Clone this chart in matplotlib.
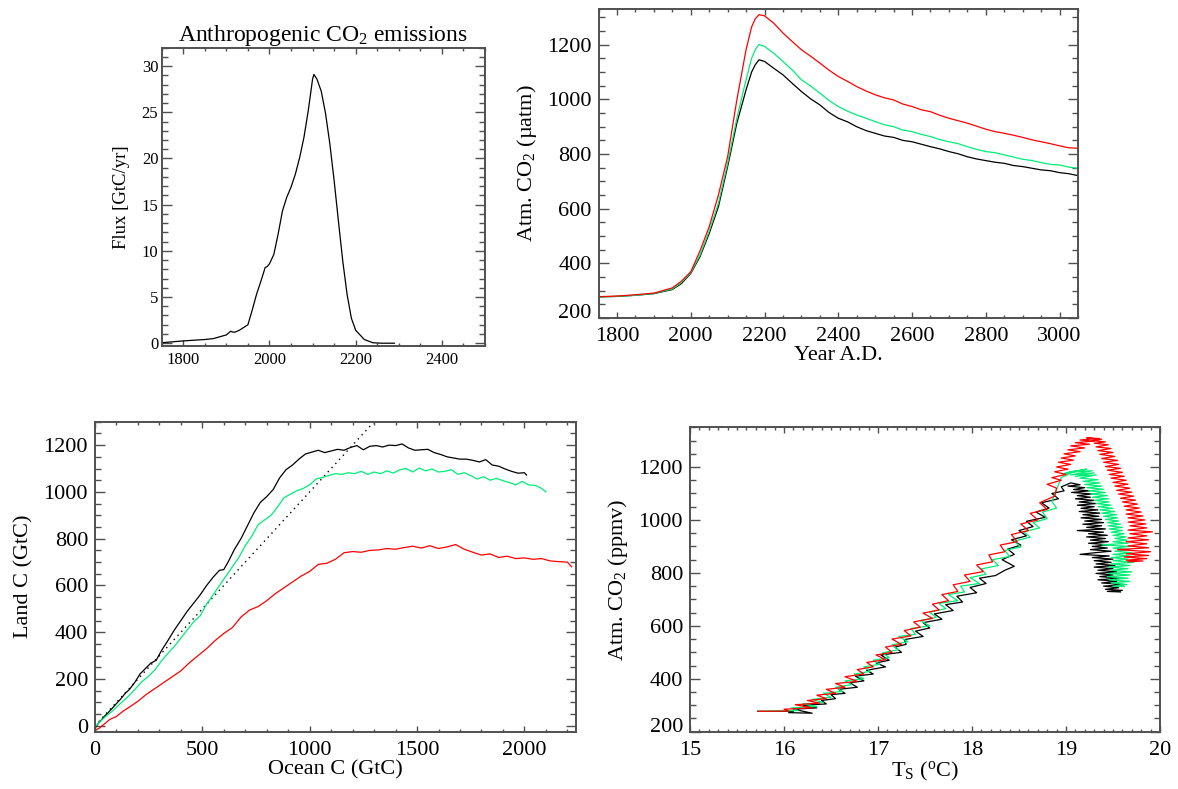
import numpy as np
import matplotlib
matplotlib.use("Agg")
import matplotlib.pyplot as plt
from matplotlib.ticker import MultipleLocator

plt.rcParams['font.family'] = ['Liberation Serif', 'DejaVu Serif']
plt.rcParams['mathtext.fontset'] = 'custom'
plt.rcParams['mathtext.rm'] = 'Liberation Serif'
plt.rcParams['mathtext.it'] = 'Liberation Serif:italic'

GREEN = '#00EE77'
SPINE = '#505050'

# --- emissions (top left)
emis_year = [1750, 1800, 1850, 1870, 1900, 1910, 1915, 1920, 1930, 1940, 1950, 1960, 1970,
             1980, 1990, 1995, 2000, 2010, 2020, 2030, 2040, 2050, 2060, 2070, 2080, 2090,
             2100, 2103, 2110, 2120, 2130, 2140, 2150, 2160, 2170, 2180, 2190, 2200, 2220,
             2240, 2260, 2290]
emis_flux = [0.05, 0.25, 0.4, 0.5, 0.9, 1.3, 1.2, 1.2, 1.4, 1.7, 2.0, 3.6, 5.3,
             6.7, 8.2, 8.3, 8.6, 9.6, 11.8, 14.3, 15.8, 16.9, 18.3, 20.1, 22.3, 25.2,
             28.6, 29.1, 28.6, 27.3, 24.9, 21.6, 17.6, 13.2, 8.9, 5.3, 2.7, 1.4, 0.4,
             0.05, 0.0, 0.0]

# --- atmospheric CO2 vs time (top right)
co2_year = [1750, 1800, 1850, 1900, 1950, 1975, 2000, 2025, 2050, 2075, 2100, 2125, 2150,
            2165, 2175, 2185, 2200, 2225, 2250, 2275, 2300, 2325, 2350, 2375, 2400, 2425,
            2450, 2475, 2500, 2525, 2550, 2575, 2600, 2625, 2650, 2675, 2700, 2725, 2750,
            2775, 2800, 2825, 2850, 2875, 2900, 2925, 2950, 2975, 3000, 3025, 3050]
co2_black = [277, 279, 283, 289, 304, 326, 363, 424, 509, 607, 754, 913, 1035,
             1100, 1127, 1145, 1139, 1114, 1090, 1059, 1029, 1002, 980, 952, 931, 918,
             900, 886, 876, 866, 861, 850, 845, 836, 827, 819, 809, 801, 790,
             782, 776, 770, 766, 758, 754, 748, 742, 739, 732, 728, 721]
co2_green = [277, 279, 283, 290, 306, 330, 366, 430, 518, 620, 766, 931, 1072,
             1150, 1182, 1201, 1194, 1169, 1139, 1108, 1072, 1049, 1023, 996, 974, 957,
             943, 931, 919, 907, 900, 888, 882, 872, 864, 853, 845, 838, 827,
             817, 809, 805, 797, 789, 781, 776, 769, 762, 760, 752, 748]
co2_red = [278, 280, 285, 291, 310, 335, 369, 445, 534, 650, 790, 998, 1182,
           1265, 1295, 1310, 1306, 1279, 1243, 1212, 1182, 1158, 1133, 1107, 1084, 1066,
           1047, 1031, 1017, 1006, 998, 983, 974, 962, 955, 942, 931, 922, 913,
           902, 891, 882, 876, 869, 861, 852, 845, 838, 830, 823, 821]

# --- land C vs ocean C (bottom left)
ocean_k = [0, 15, 30, 45, 60, 80, 100, 120, 140, 160, 185, 210, 235, 260, 285, 310, 340, 370,
           400, 430, 460, 490, 520, 550, 580, 600, 620, 650, 680, 710, 740, 770, 800, 830,
           860, 890, 920, 950, 980, 1010, 1040, 1070, 1100, 1130, 1160, 1190, 1220, 1250,
           1280, 1310, 1340, 1370, 1400, 1430, 1460, 1490, 1520, 1550, 1580, 1610, 1640,
           1670, 1700, 1730, 1760, 1790, 1820, 1850, 1880, 1910, 1940, 1970, 2000, 2010]
land_k = [-10, 10, 25, 42, 55, 75, 95, 115, 138, 155, 185, 222, 245, 268, 280, 322, 365, 410,
          450, 490, 525, 560, 600, 635, 665, 668, 700, 755, 800, 855, 910, 955, 980, 1010,
          1060, 1095, 1115, 1140, 1162, 1170, 1178, 1168, 1175, 1182, 1178, 1190, 1198, 1180,
          1195, 1198, 1192, 1200, 1198, 1205, 1188, 1178, 1180, 1182, 1168, 1160, 1150,
          1145, 1140, 1140, 1135, 1128, 1138, 1115, 1110, 1098, 1088, 1080, 1082, 1072]
ocean_g = [0, 20, 40, 60, 80, 100, 130, 160, 190, 220, 250, 280, 310, 340, 370, 400, 430, 460,
           490, 520, 550, 580, 610, 640, 670, 700, 730, 760, 790, 820, 850, 880, 910, 940,
           970, 1000, 1030, 1060, 1090, 1120, 1150, 1180, 1210, 1240, 1270, 1300, 1330, 1360,
           1390, 1420, 1450, 1480, 1510, 1540, 1570, 1600, 1630, 1660, 1690, 1720, 1750,
           1780, 1810, 1840, 1870, 1900, 1930, 1960, 1990, 2020, 2050, 2080, 2100]
land_g = [-5, 15, 32, 48, 62, 80, 105, 130, 160, 190, 212, 240, 278, 310, 340, 375, 410, 445,
          470, 520, 560, 600, 640, 680, 720, 770, 810, 860, 880, 900, 935, 975, 990, 1005,
          1015, 1030, 1055, 1062, 1070, 1078, 1075, 1082, 1078, 1088, 1075, 1085, 1078, 1090,
          1080, 1095, 1100, 1085, 1102, 1090, 1098, 1085, 1088, 1095, 1075, 1082, 1070,
          1055, 1065, 1050, 1058, 1048, 1040, 1030, 1045, 1030, 1028, 1015, 1000]
ocean_r = [0, 20, 40, 70, 100, 130, 160, 200, 240, 280, 320, 360, 400, 440, 480, 520, 560, 600,
           640, 680, 720, 760, 800, 840, 880, 920, 960, 1000, 1040, 1080, 1120, 1160, 1200,
           1240, 1280, 1320, 1360, 1400, 1440, 1480, 1520, 1560, 1600, 1640, 1680, 1720,
           1760, 1800, 1840, 1880, 1920, 1960, 2000, 2040, 2080, 2120, 2160, 2200, 2220]
land_r = [-20, -10, 5, 28, 40, 62, 80, 105, 135, 160, 185, 210, 235, 270, 300, 330, 365, 395,
          420, 465, 495, 510, 535, 565, 590, 615, 640, 660, 690, 695, 712, 740, 745,
          742, 750, 752, 758, 755, 762, 768, 760, 770, 758, 765, 775, 755,
          742, 730, 735, 720, 725, 715, 718, 712, 715, 705, 702, 700, 680]
one_to_one = [0, 1300]

# --- CO2 vs surface temperature (bottom right), rising leg then falling leg
ts_black = [15.72, 16.10, 16.05, 16.30, 16.10, 16.35, 16.20, 16.45, 16.40, 16.55, 16.50, 16.65,
            16.58, 16.78, 16.70, 16.85, 16.76, 16.95, 16.88, 17.08, 16.98, 17.12, 17.03, 17.25,
            17.18, 17.30, 17.28, 17.48, 17.40, 17.55, 17.48, 17.68, 17.60, 17.80, 17.72, 17.90,
            17.84, 18.05, 17.98, 18.15, 18.08, 18.25, 18.35, 18.45, 18.32, 18.45, 18.38, 18.52,
            18.42, 18.58, 18.50, 18.65, 18.58, 18.78, 18.68, 18.82, 18.74, 18.92, 18.85, 18.98,
            18.95, 19.05,
            19.15, 19.02, 19.20, 19.08, 19.25, 19.06, 19.28, 19.12, 19.26, 19.10, 19.30, 19.14,
            19.32, 19.12, 19.30, 19.16, 19.34, 19.14, 19.36, 19.18, 19.35, 19.16, 19.38, 19.20,
            19.40, 19.18, 19.38, 19.22, 19.42, 19.12, 19.40, 19.24, 19.44, 19.22, 19.42, 19.26,
            19.45, 19.24, 19.46, 19.28, 19.44, 19.26, 19.48, 19.30, 19.15, 19.46, 19.28, 19.50,
            19.30, 19.48, 19.32, 19.52, 19.30, 19.50, 19.34, 19.54, 19.32, 19.50, 19.36, 19.56,
            19.34, 19.54, 19.38, 19.62, 19.40, 19.56, 19.42, 19.60, 19.44, 19.58]
co2_ts_black = [277, 277, 272, 270, 285, 290, 300, 305, 318, 325, 340, 345,
                360, 368, 385, 392, 410, 418, 432, 445, 460, 470, 490, 500,
                520, 530, 548, 560, 580, 592, 612, 625, 645, 658, 680, 690,
                712, 725, 745, 760, 780, 790, 810, 825, 850, 870, 890, 905,
                925, 940, 960, 975, 995, 1010, 1030, 1045, 1065, 1080, 1100, 1110,
                1125, 1140,
                1133, 1128, 1122, 1115, 1110, 1104, 1098, 1092, 1086, 1080, 1074, 1068,
                1062, 1056, 1050, 1044, 1038, 1032, 1026, 1020, 1014, 1008, 1002, 996,
                990, 984, 978, 972, 966, 960, 954, 948, 942, 936, 930, 924,
                918, 912, 906, 900, 894, 888, 882, 876, 870, 864, 858, 852,
                846, 840, 834, 828, 822, 816, 810, 804, 798, 792, 786, 780,
                774, 768, 762, 756, 750, 744, 738, 734, 730, 728]
ts_green = [15.72, 16.15, 16.08, 16.35, 16.20, 16.42, 16.30, 16.50, 16.42, 16.62, 16.55, 16.72,
            16.65, 16.85, 16.75, 16.92, 16.85, 17.02, 16.95, 17.12, 17.05, 17.22, 17.15, 17.32,
            17.22, 17.40, 17.35, 17.55, 17.45, 17.62, 17.55, 17.72, 17.65, 17.85, 17.75, 17.92,
            17.88, 18.08, 17.98, 18.15, 18.10, 18.28, 18.22, 18.40, 18.35, 18.52, 18.45, 18.62,
            18.55, 18.72, 18.65, 18.80, 18.75, 18.90, 18.85,
            18.95, 19.10, 18.98, 19.22, 19.02, 19.28, 19.05, 19.30, 19.10, 19.32, 19.15, 19.34,
            19.18, 19.36, 19.20, 19.38, 19.22, 19.40, 19.24, 19.42, 19.26, 19.44, 19.28, 19.45,
            19.30, 19.46, 19.32, 19.48, 19.34, 19.50, 19.36, 19.52, 19.38, 19.54, 19.40, 19.55,
            19.42, 19.56, 19.44, 19.58, 19.45, 19.60, 19.46, 19.60, 19.48, 19.62, 19.50, 19.64,
            19.52, 19.65, 19.50, 19.66, 19.38, 19.68, 19.50, 19.66, 19.52, 19.70, 19.50, 19.68,
            19.48, 19.66, 19.50, 19.72, 19.48, 19.68, 19.46, 19.66, 19.48, 19.70, 19.45, 19.68,
            19.44, 19.66, 19.46, 19.68, 19.48, 19.65, 19.50, 19.62]
co2_ts_green = [277, 280, 290, 295, 305, 310, 322, 330, 345, 352, 368, 378,
                392, 400, 418, 428, 445, 455, 470, 480, 498, 510, 528, 540,
                560, 568, 590, 600, 620, 632, 652, 665, 685, 695, 718, 728,
                750, 760, 782, 795, 815, 828, 850, 862, 885, 898, 920, 935,
                955, 970, 990, 1005, 1030, 1045, 1070,
                1160, 1185, 1175, 1192, 1180, 1186, 1170, 1178, 1165, 1170, 1158, 1152,
                1146, 1140, 1134, 1128, 1122, 1116, 1110, 1104, 1098, 1092, 1086, 1080,
                1074, 1068, 1062, 1056, 1050, 1044, 1038, 1032, 1026, 1020, 1014, 1008,
                1002, 996, 990, 984, 978, 972, 966, 960, 954, 948, 942, 936,
                930, 924, 918, 912, 906, 900, 894, 888, 882, 876, 870, 864,
                858, 852, 846, 840, 834, 828, 822, 816, 810, 804, 798, 792,
                786, 780, 774, 768, 762, 756, 750, 748]
ts_red = [15.72, 16.05, 16.00, 16.30, 16.12, 16.38, 16.25, 16.45, 16.35, 16.55, 16.45, 16.65,
          16.55, 16.78, 16.65, 16.85, 16.78, 16.95, 16.88, 17.08, 16.98, 17.15, 17.08, 17.25,
          17.15, 17.35, 17.28, 17.45, 17.38, 17.58, 17.48, 17.65, 17.58, 17.75, 17.68, 17.85,
          17.80, 17.98, 17.92, 18.12, 18.05, 18.22, 18.18, 18.35, 18.30, 18.48, 18.42, 18.60,
          18.52, 18.70, 18.62, 18.80, 18.72, 18.88,
          18.90, 18.80, 18.95, 18.85, 19.00, 18.88, 19.02, 18.90, 19.05, 18.92, 19.08, 18.95,
          19.10, 18.98, 19.15, 19.02, 19.20, 19.05, 19.25, 19.10, 19.30, 19.15, 19.35, 19.22,
          19.38, 19.28, 19.42, 19.30, 19.45, 19.32, 19.48, 19.34, 19.50, 19.36, 19.52, 19.38,
          19.55, 19.40, 19.56, 19.42, 19.58, 19.44, 19.60, 19.46, 19.62, 19.48, 19.64, 19.50,
          19.66, 19.52, 19.68, 19.54, 19.70, 19.56, 19.72, 19.58, 19.74, 19.60, 19.76, 19.62,
          19.78, 19.64, 19.80, 19.64, 19.82, 19.66, 19.84, 19.66, 19.85, 19.68, 19.86, 19.66,
          19.92, 19.68, 19.86, 19.66, 19.88, 19.64, 19.86, 19.66, 19.88, 19.55, 19.90, 19.64,
          19.88, 19.62, 19.86, 19.64, 19.82, 19.66]
co2_ts_red = [277, 278, 285, 290, 302, 308, 318, 325, 338, 345, 360, 368,
              382, 390, 408, 418, 435, 445, 462, 472, 490, 500, 520, 530,
              550, 562, 582, 595, 615, 628, 648, 660, 682, 695, 718, 730,
              755, 768, 792, 805, 830, 842, 868, 880, 905, 918, 945, 960,
              985, 1000, 1025, 1040, 1065, 1090,
              1120, 1135, 1150, 1160, 1172, 1182, 1192, 1200, 1210, 1218, 1226, 1234,
              1242, 1250, 1258, 1265, 1272, 1280, 1286, 1292, 1298, 1302, 1308, 1310,
              1305, 1300, 1295, 1290, 1284, 1276, 1270, 1262, 1255, 1248, 1240, 1232,
              1225, 1218, 1210, 1202, 1195, 1188, 1180, 1172, 1165, 1158, 1150, 1142,
              1135, 1128, 1120, 1112, 1105, 1098, 1090, 1082, 1075, 1068, 1060, 1052,
              1045, 1038, 1030, 1022, 1015, 1008, 1000, 992, 985, 978, 970, 962,
              955, 948, 940, 932, 925, 918, 910, 902, 895, 888, 880, 872,
              866, 860, 854, 848, 845, 842]


def style_axes(ax, xmaj, xmin, ymaj, ymin, size, xpad=6.5, ypad=5):
    ax.xaxis.set_major_locator(MultipleLocator(xmaj))
    ax.xaxis.set_minor_locator(MultipleLocator(xmin))
    ax.yaxis.set_major_locator(MultipleLocator(ymaj))
    ax.yaxis.set_minor_locator(MultipleLocator(ymin))
    ax.tick_params(which='both', direction='in', top=True, right=True,
                   color=SPINE, labelsize=size)
    ax.tick_params(axis='x', which='major', length=4.2, width=1.0, pad=xpad)
    ax.tick_params(axis='x', which='minor', length=2.5, width=1.0)
    ax.tick_params(axis='y', which='major', length=7.5, width=1.0, pad=ypad)
    ax.tick_params(axis='y', which='minor', length=4.2, width=1.0)
    for s in ax.spines.values():
        s.set_color(SPINE)
        s.set_linewidth(1.4)


fig = plt.figure(figsize=(11.78, 7.89), dpi=100)

# top left
ax1 = fig.add_axes([0.1373, 0.5615, 0.2744, 0.3781])
ax1.plot(emis_year, emis_flux, color='black', lw=0.9)
ax1.set_xlim(1750, 2500)
ax1.set_ylim(-0.3, 32)
style_axes(ax1, 200, 50, 5, 1, 12, xpad=4.5, ypad=2.5)
ax1.tick_params(axis='x', which='major', length=4.0)
ax1.tick_params(axis='y', which='major', length=7.0)
ax1.set_ylabel('Flux [GtC/yr]', fontsize=13.5, labelpad=8)
ax1.set_title(r'Anthropogenic CO$_2$ emissions', fontsize=17, pad=3)

# top right
ax2 = fig.add_axes([0.5081, 0.5970, 0.4070, 0.3913])
ax2.plot(co2_year, co2_black, color='black', lw=0.9)
ax2.plot(co2_year, co2_green, color=GREEN, lw=0.9)
ax2.plot(co2_year, co2_red, color='red', lw=0.9)
ax2.set_xlim(1750, 3050)
ax2.set_ylim(200, 1330)
style_axes(ax2, 200, 50, 200, 50, 16)
ax2.set_yticks([200, 400, 600, 800, 1000, 1200])
ax2.yaxis.get_major_ticks()[0].label1.set_verticalalignment('baseline')
ax2.set_xlabel('Year A.D.', fontsize=16, labelpad=0)
ax2.set_ylabel('Atm. CO$_2$ (\u00b5atm)', fontsize=16, labelpad=6)

# bottom left
ax3 = fig.add_axes([0.0806, 0.0726, 0.4083, 0.3929])
ax3.plot(one_to_one, one_to_one, color='black', lw=1.0, ls=(0, (1, 3)))
ax3.plot(ocean_k, land_k, color='black', lw=0.9)
ax3.plot(ocean_g, land_g, color=GREEN, lw=0.9)
ax3.plot(ocean_r, land_r, color='red', lw=0.9)
ax3.set_xlim(0, 2240)
ax3.set_ylim(-25, 1300)
style_axes(ax3, 500, 100, 200, 50, 16)
ax3.set_xlabel('Ocean C (GtC)', fontsize=16, labelpad=0)
ax3.set_ylabel('Land C (GtC)', fontsize=16, labelpad=7.5)

# bottom right
ax4 = fig.add_axes([0.5857, 0.0726, 0.3990, 0.3858])
ax4.plot(ts_black, co2_ts_black, color='black', lw=0.9)
ax4.plot(ts_green, co2_ts_green, color=GREEN, lw=0.9)
ax4.plot(ts_red, co2_ts_red, color='red', lw=0.9)
ax4.set_xlim(15, 20)
ax4.set_ylim(200, 1350)
style_axes(ax4, 1, 0.1, 200, 50, 16)
ax4.set_yticks([200, 400, 600, 800, 1000, 1200])
ax4.yaxis.get_major_ticks()[0].label1.set_verticalalignment('baseline')
ax4.set_xlabel(r'T$_\mathrm{S}$ ($^\mathrm{o}$C)', fontsize=16, labelpad=0)
ax4.set_ylabel('Atm. CO$_2$ (ppmv)', fontsize=16, labelpad=6)

fig.savefig('out.png', dpi=100)
